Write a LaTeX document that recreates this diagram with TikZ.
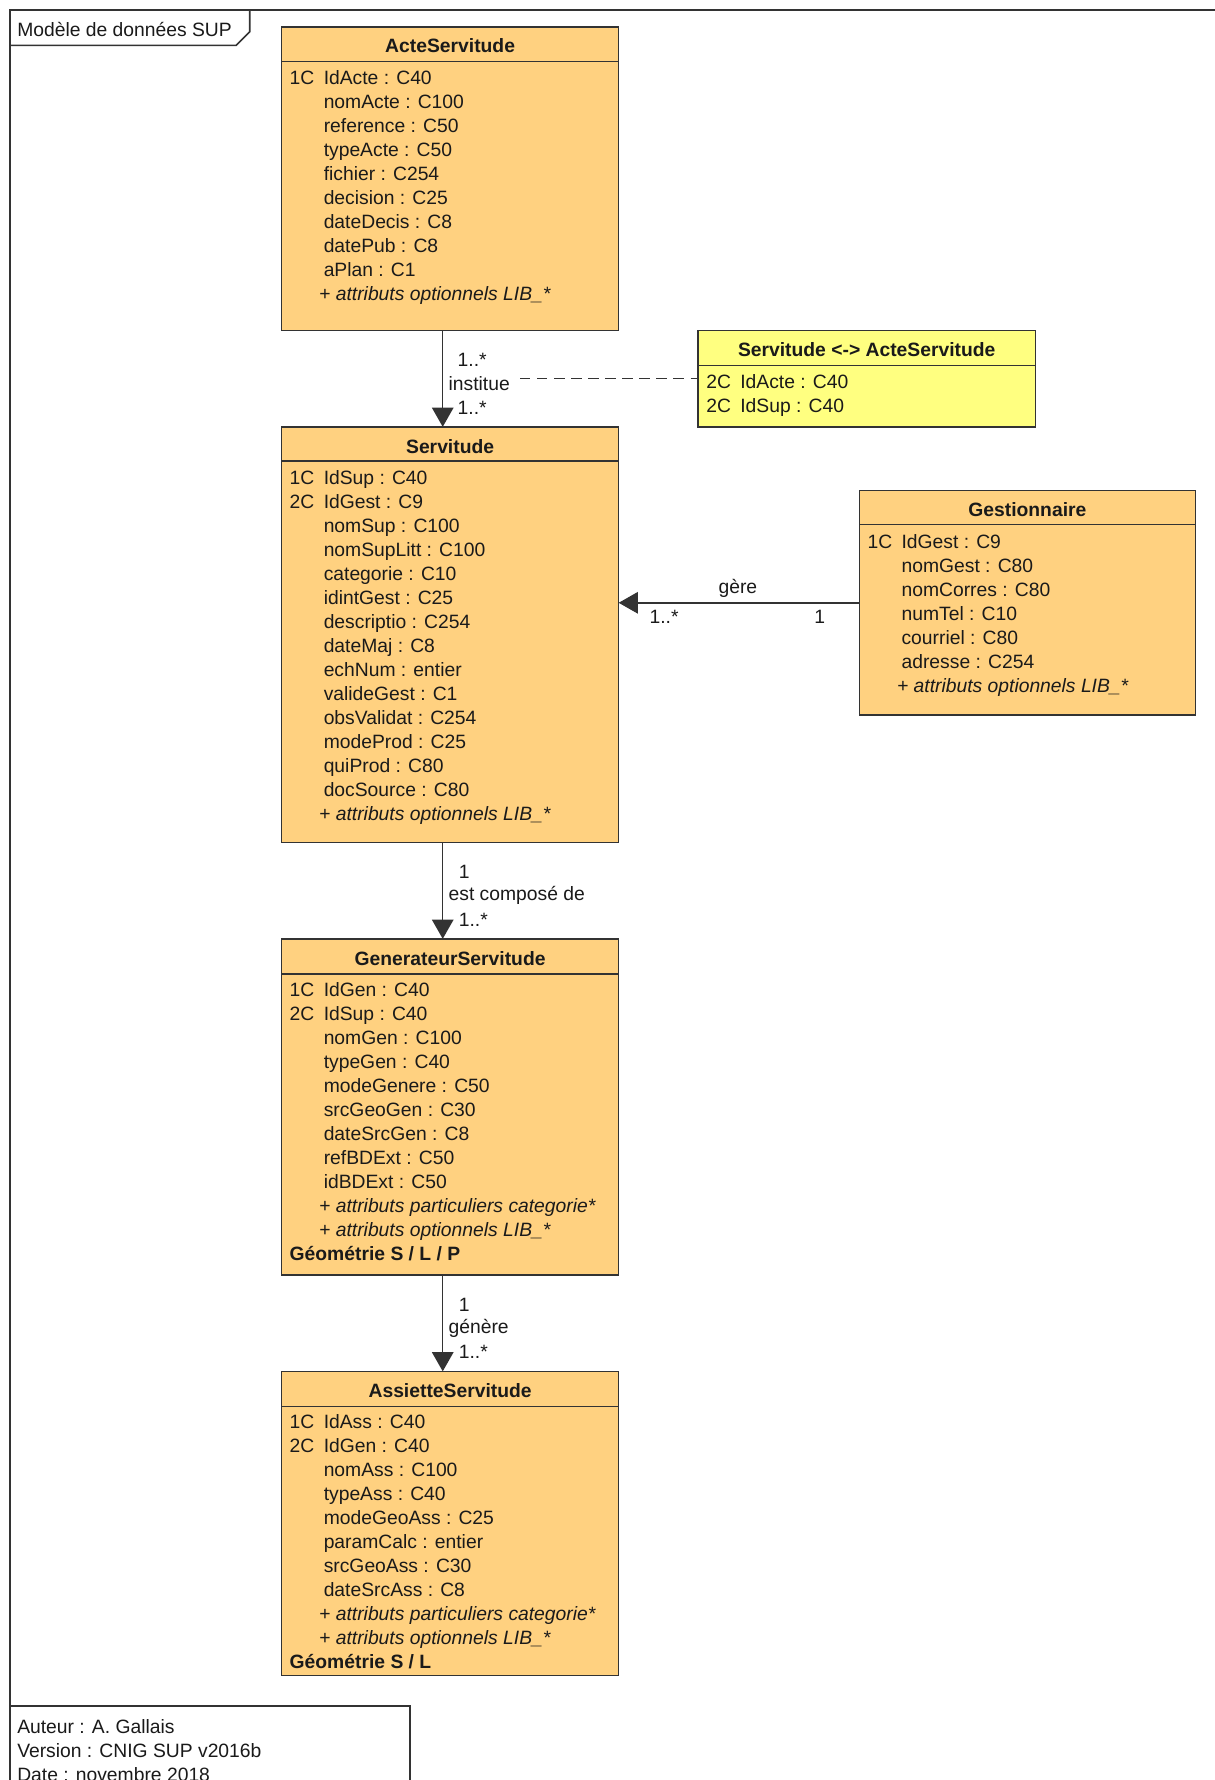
\documentclass[tikz,border=0pt]{standalone}
\usepackage{fontspec}
\setmainfont{Liberation Sans}
\usetikzlibrary{arrows.meta}
\definecolor{umlorange}{HTML}{FFD180}
\definecolor{umlyellow}{HTML}{FFFF80}
\definecolor{linec}{HTML}{333333}
\definecolor{txtc}{HTML}{1A1A1A}
\newcommand\attrfont{\fontsize{17}{21}\selectfont}
\newcommand\titlefont{\fontsize{17}{21}\selectfont\bfseries}
\newcommand\pkey[1]{\makebox[30pt][l]{#1}}
\newcommand\indA{\hspace*{30pt}}
\newcommand\optattr[1]{\hspace*{26pt}\textit{#1}}
\newcommand\attrlist[4]{\foreach \atxt [count=\i from 0] in {#4} {\node[attr] (#1-\i) at (#2,{#3+21.15*\i}) {\atxt};}}
\tikzset{
  ln/.style={draw=linec, line width=1.4pt},
  frameln/.style={draw=linec, line width=1.8pt},
  cls/.style={ln, fill=umlorange, anchor=north west, inner sep=0pt, outer sep=0pt},
  assoccls/.style={cls, fill=umlyellow},
  ttl/.style={font=\titlefont, text=txtc, anchor=center, inner sep=0pt},
  attr/.style={font=\attrfont, text=txtc, anchor=base west, inner sep=0pt},
  lbl/.style={font=\attrfont, text=txtc, anchor=west, inner sep=0pt},
  assoc/.style={draw=linec, line width=1.3pt, -{Triangle[width=19pt,length=17pt]}},
  linkdash/.style={draw=linec, line width=1.3pt, dash pattern=on 9pt off 6pt},
}
\begin{document}
\begin{tikzpicture}[x=1pt,y=-1pt]
\useasboundingbox (0,0) rectangle (1070,1568);
\fill[white] (0,0) rectangle (1070,1568);

% frame
\draw[frameln] (1075,9) -- (9,9) -- (9,1575);
\draw[ln] (9,40) -- (208,40) -- (220,28) -- (220,9);
\node[lbl] (frametitle) at (15,26) {Modèle de données SUP};

% ActeServitude
\node[cls, minimum width=297pt, minimum height=267pt] (acte) at (248,24) {};
\draw[ln] ([yshift=-30pt]acte.north west) -- ([yshift=-30pt]acte.north east);
\node[ttl] (acte-t) at ([yshift=-16pt]acte.north) {ActeServitude};
\attrlist{acte}{255}{74.5}{\pkey{1C}IdActe : C40, \indA nomActe : C100, \indA reference : C50, \indA typeActe : C50, \indA fichier : C254, \indA decision : C25, \indA dateDecis : C8, \indA datePub : C8, \indA aPlan : C1, \optattr{+ attributs optionnels LIB\_*}}

% association class
\node[assoccls, minimum width=297pt, minimum height=85pt] (assocc) at (615,291) {};
\draw[ln] ([yshift=-31pt]assocc.north west) -- ([yshift=-31pt]assocc.north east);
\node[ttl] (assocc-t) at ([yshift=-17pt]assocc.north) {Servitude <-> ActeServitude};
\attrlist{assocc}{622}{342.5}{\pkey{2C}IdActe : C40, \pkey{2C}IdSup : C40}

% Servitude
\node[cls, minimum width=297pt, minimum height=366pt] (serv) at (248,376) {};
\draw[ln] ([yshift=-30pt]serv.north west) -- ([yshift=-30pt]serv.north east);
\node[ttl] (serv-t) at ([yshift=-17pt]serv.north) {Servitude};
\attrlist{serv}{255}{426.5}{\pkey{1C}IdSup : C40, \pkey{2C}IdGest : C9, \indA nomSup : C100, \indA nomSupLitt : C100, \indA categorie : C10, \indA idintGest : C25, \indA descriptio : C254, \indA dateMaj : C8, \indA echNum : entier, \indA valideGest : C1, \indA obsValidat : C254, \indA modeProd : C25, \indA quiProd : C80, \indA docSource : C80, \optattr{+ attributs optionnels LIB\_*}}

% Gestionnaire
\node[cls, minimum width=296pt, minimum height=198pt] (gest) at (757,432) {};
\draw[ln] ([yshift=-30pt]gest.north west) -- ([yshift=-30pt]gest.north east);
\node[ttl] (gest-t) at ([yshift=-17pt]gest.north) {Gestionnaire};
\attrlist{gest}{764}{483}{\pkey{1C}IdGest : C9, \indA nomGest : C80, \indA nomCorres : C80, \indA numTel : C10, \indA courriel : C80, \indA adresse : C254, \optattr{+ attributs optionnels LIB\_*}}

% GenerateurServitude
\node[cls, minimum width=297pt, minimum height=296pt] (gen) at (248,827) {};
\draw[ln] ([yshift=-31pt]gen.north west) -- ([yshift=-31pt]gen.north east);
\node[ttl] (gen-t) at ([yshift=-17pt]gen.north) {GenerateurServitude};
\attrlist{gen}{255}{877.5}{\pkey{1C}IdGen : C40, \pkey{2C}IdSup : C40, \indA nomGen : C100, \indA typeGen : C40, \indA modeGenere : C50, \indA srcGeoGen : C30, \indA dateSrcGen : C8, \indA refBDExt : C50, \indA idBDExt : C50, \optattr{+ attributs particuliers categorie*}, \optattr{+ attributs optionnels LIB\_*}, \textbf{Géométrie S / L / P}}

% AssietteServitude
\node[cls, minimum width=297pt, minimum height=268pt] (ass) at (248,1208) {};
\draw[ln] ([yshift=-31pt]ass.north west) -- ([yshift=-31pt]ass.north east);
\node[ttl] (ass-t) at ([yshift=-17pt]ass.north) {AssietteServitude};
\attrlist{ass}{255}{1258.5}{\pkey{1C}IdAss : C40, \pkey{2C}IdGen : C40, \indA nomAss : C100, \indA typeAss : C40, \indA modeGeoAss : C25, \indA paramCalc : entier, \indA srcGeoAss : C30, \indA dateSrcAss : C8, \optattr{+ attributs particuliers categorie*}, \optattr{+ attributs optionnels LIB\_*}, \textbf{Géométrie S / L}}

% associations
\draw[assoc] ([xshift=-6.5pt]acte.south) -- ([xshift=-6.5pt]serv.north);
\node[lbl] (inst-m1) at (403,317) {1..*};
\node[lbl] (inst) at (395,338) {institue};
\node[lbl] (inst-m2) at (403,359) {1..*};
\draw[linkdash] ([xshift=9pt]inst.east |- assocc.west) -- (assocc.west);

\draw[assoc] (gest.west) -- (gest.west -| serv.east);
\node[lbl, anchor=center] (gere) at (650,518) {gère};
\node[lbl] (gere-m1) at (572,543) {1..*};
\node[lbl, anchor=center] (gere-m2) at (722,543) {1};

\draw[assoc] ([xshift=-6.5pt]serv.south) -- ([xshift=-6.5pt]gen.north);
\node[lbl] (comp-m1) at (404,768) {1};
\node[lbl] (comp) at (395,789) {est composé de};
\node[lbl] (comp-m2) at (404,810) {1..*};

\draw[assoc] ([xshift=-6.5pt]gen.south) -- ([xshift=-6.5pt]ass.north);
\node[lbl] (genr-m1) at (404,1149) {1};
\node[lbl] (genr) at (395,1170) {génère};
\node[lbl] (genr-m2) at (404,1191) {1..*};

% footer
\draw[ln] (9,1503) -- (361,1503) -- (361,1580);
\node[lbl] (auteur) at (15,1521) {Auteur : A. Gallais};
\node[lbl] (version) at (15,1542) {Version : CNIG SUP v2016b};
\node[lbl] (date) at (15,1563) {Date : novembre 2018};
\end{tikzpicture}
\end{document}
